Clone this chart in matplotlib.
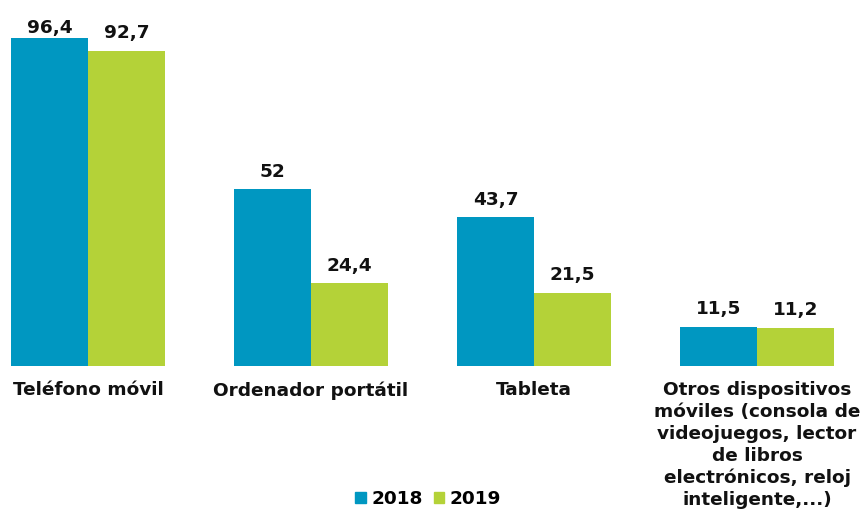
import numpy as np
import matplotlib.pyplot as plt
from matplotlib.patches import Patch

categorias = ['Teléfono móvil', 'Ordenador portátil', 'Tableta',
              'Otros dispositivos\nmóviles (consola de\nvideojuegos, lector\nde libros\nelectrónicos, reloj\ninteligente,...)']
v2018 = [96.4, 52, 43.7, 11.5]
v2019 = [92.7, 24.4, 21.5, 11.2]
etiq2018 = ['96,4', '52', '43,7', '11,5']
etiq2019 = ['92,7', '24,4', '21,5', '11,2']

AZUL = '#0097c1'
VERDE = '#b4d238'
FS = 13.3
PX = 3.40  # pixels per unit

plt.rcParams['font.family'] = 'DejaVu Sans'
plt.rcParams['font.weight'] = 'bold'

fig = plt.figure(figsize=(8.61, 5.11), dpi=100)
ax = fig.add_axes([0, 145 / 511, 1, 356 / 511])

x = np.arange(len(categorias))
w = 77 / 223
b1 = ax.bar(x - w / 2, v2018, w, color=AZUL)
b2 = ax.bar(x + w / 2, v2019, w, color=VERDE)

# labels sit ~12px above the bar, but never above the top of the plot area
tope = (366 - 33) / PX
for rect, t in zip(list(b1) + list(b2), etiq2018 + etiq2019):
    y = min(rect.get_height() + 12.5 / PX, tope)
    ax.text(rect.get_x() + rect.get_width() / 2, y, t, ha='center', va='baseline',
            fontsize=FS, fontweight='bold', color='#111111')

ax.set_xlim(-88 / 223, (861 - 88) / 223)
ax.set_ylim(0, 356 / PX)
ax.set_xticks(x)
ax.set_xticklabels(categorias, fontsize=FS, fontweight='bold', linespacing=1.27,
                   va='top', ha='center', color='#111111')
ax.tick_params(axis='x', length=0, pad=11)
ax.set_yticks([])
for s in ax.spines.values():
    s.set_visible(False)

handles = [Patch(color=AZUL, label='2018'), Patch(color=VERDE, label='2019')]
fig.legend(handles=handles, loc='center', bbox_to_anchor=(428 / 861, 1 - 499 / 511),
           ncol=2, frameon=False, handlelength=0.55, handleheight=0.55,
           handletextpad=0.3, columnspacing=0.6, borderpad=0,
           prop={'size': FS, 'weight': 'bold'})

fig.savefig('out.png', dpi=100)
